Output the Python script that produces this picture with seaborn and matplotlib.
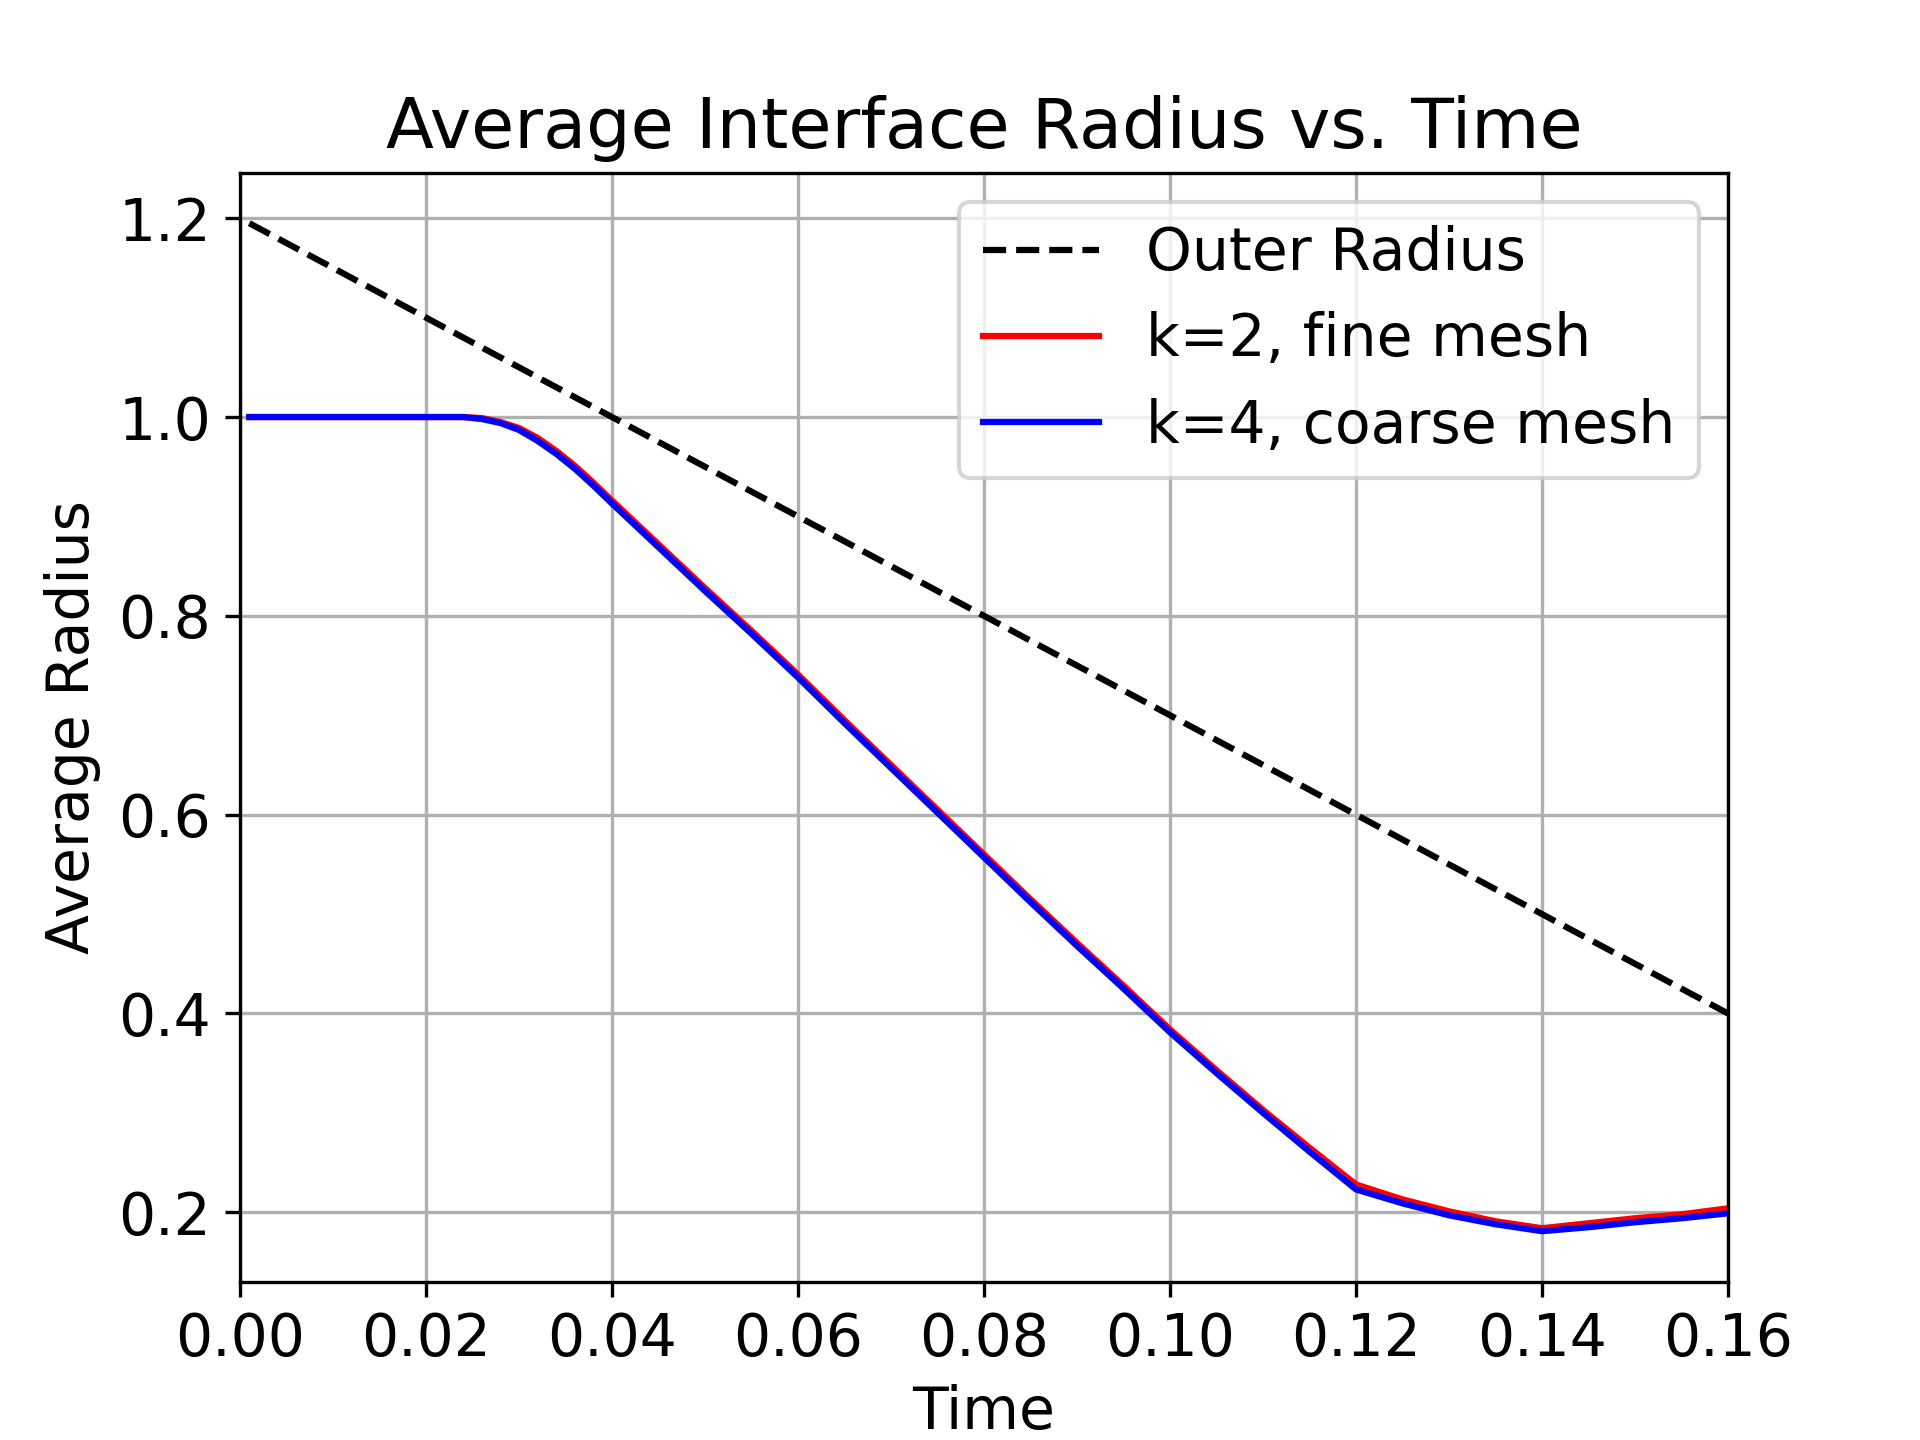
import matplotlib
matplotlib.use("Agg")
import matplotlib.pyplot as plt
import seaborn as sns

plt.rcParams["font.size"] = 14

# Outer radius (linear, first sample just after t=0)
outer_time = [0.001, 0.04, 0.08, 0.12, 0.16]
outer_radius = [1.195, 1.00, 0.80, 0.60, 0.40]

# Interface radius samples
time = [0.001, 0.005, 0.010, 0.015, 0.020, 0.024, 0.026, 0.028, 0.030, 0.032,
        0.034, 0.036, 0.038, 0.040, 0.045, 0.050, 0.055, 0.060, 0.065, 0.070,
        0.075, 0.080, 0.085, 0.090, 0.095, 0.100, 0.105, 0.110, 0.115, 0.120,
        0.125, 0.130, 0.135, 0.140, 0.145, 0.150, 0.155, 0.160]

k4_coarse = [1.000, 1.000, 1.000, 1.000, 1.000, 1.000, 0.998, 0.994, 0.987, 0.976,
             0.963, 0.948, 0.931, 0.913, 0.869, 0.825, 0.782, 0.738, 0.692, 0.647,
             0.602, 0.557, 0.512, 0.468, 0.425, 0.381, 0.340, 0.300, 0.261, 0.223,
             0.209, 0.197, 0.188, 0.181, 0.185, 0.190, 0.194, 0.199]

k2_fine = [1.000, 1.000, 1.000, 1.000, 1.000, 1.000, 0.999, 0.995, 0.989, 0.979,
           0.966, 0.951, 0.934, 0.916, 0.872, 0.828, 0.785, 0.741, 0.695, 0.650,
           0.605, 0.560, 0.515, 0.471, 0.428, 0.384, 0.343, 0.303, 0.265, 0.228,
           0.213, 0.201, 0.191, 0.184, 0.189, 0.194, 0.198, 0.204]

fig, ax = plt.subplots(figsize=(6.4, 4.8), dpi=300)

sns.lineplot(x=outer_time, y=outer_radius, ax=ax, color="black", linestyle="--",
             linewidth=1.5, label="Outer Radius")
sns.lineplot(x=time, y=k2_fine, ax=ax, color="red", linewidth=1.5,
             label="k=2, fine mesh")
sns.lineplot(x=time, y=k4_coarse, ax=ax, color="blue", linewidth=1.5,
             label="k=4, coarse mesh")

ax.set_xlim(0, 0.16)
ax.set_title("Average Interface Radius vs. Time")
ax.set_xlabel("Time")
ax.set_ylabel("Average Radius")
ax.grid(True)
ax.legend(loc="upper right")

fig.savefig("out.png", dpi=300)
